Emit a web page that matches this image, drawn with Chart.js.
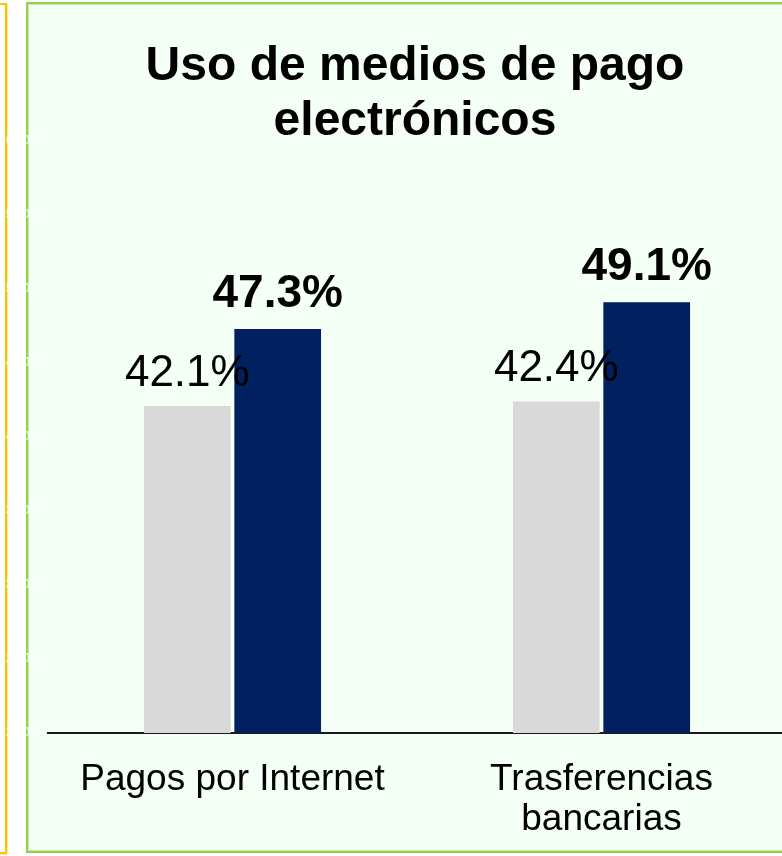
<!DOCTYPE html>
<html>
<head>
<meta charset="utf-8">
<script src="https://cdn.jsdelivr.net/npm/chart.js@4"></script>
<style>
  html, body { margin: 0; padding: 0; overflow: hidden; background: #fff; }
  #wrap { position: relative; width: 782px; height: 856px; overflow: hidden; }
  #yellow { position: absolute; left: -20px; top: 3px; width: 27px; height: 851px; box-sizing: border-box; border: 2px solid #ffc000; box-shadow: 1px 0 0 #ffe699, 0 1px 0 #ffe699; }
  #green { position: absolute; left: 26px; top: 2px; width: 800px; height: 851px; box-sizing: border-box; border: 2px solid #92d050; box-shadow: inset 1px 1px 0 #c9e8a8, inset -1px -1px 0 #c9e8a8; background: #f4fff5; }
  #graphics { position: absolute; left: 0; top: 0; }
</style>
</head>
<body>
<div id="wrap">
  <div id="yellow"></div>
  <div id="green"></div>
  <canvas id="graphics" width="786" height="856"></canvas>
</div>
<script>
const titleLines = ['Uso de medios de pago', 'electrónicos'];
const categories = ['Pagos por Internet', ['Trasferencias', 'bancarias']];
const previousValues = [42.1, 42.4];
const currentValues = [47.3, 49.1];
const yMin = 20;
const yMax = 60;
const yStep = 5;

const FONT = '"Liberation Sans", Arial, sans-serif';

// title centred over the plot area
const titlePlugin = {
    id: 'titlePlugin',
    afterDraw(chart) {
        const c = chart.ctx;
        const area = chart.chartArea;
        const cx = (area.left + 782) / 2;
        c.save();
        c.fillStyle = '#000';
        c.font = 'bold 48px ' + FONT;
        c.textAlign = 'center';
        c.textBaseline = 'alphabetic';
        c.fillText(titleLines[0], cx, 80);
        c.fillText(titleLines[1], cx, 135);
        c.restore();
    }
};

// value labels above bars
const labelPlugin = {
    id: 'labelPlugin',
    afterDatasetsDraw(chart) {
        const c = chart.ctx;
        c.save();
        c.fillStyle = '#000';
        c.textAlign = 'center';
        c.textBaseline = 'alphabetic';
        chart.data.datasets.forEach((ds, i) => {
            const meta = chart.getDatasetMeta(i);
            const bold = i === 1;
            c.font = (bold ? 'bold 46px ' : '44px ') + FONT;
            meta.data.forEach((bar, j) => {
                c.fillText(ds.data[j].toFixed(1) + '%', bar.x, bar.y - (bold ? 22 : 20));
            });
        });
        c.restore();
    }
};

var ctx = document.getElementById('graphics').getContext('2d');
var myChart = new Chart(ctx, {
    type: 'bar',
    data: {
        labels: categories,
        datasets: [{
            label: 'Anterior',
            data: previousValues,
            backgroundColor: '#d9d9d9',
            categoryPercentage: 0.49,
            barPercentage: 0.959
        }, {
            label: 'Actual',
            data: currentValues,
            backgroundColor: '#002060',
            categoryPercentage: 0.49,
            barPercentage: 0.959
        }]
    },
    options: {
        responsive: false,
        animation: false,
        layout: { padding: { top: 141, right: 0, left: 0, bottom: 0 } },
        plugins: {
            legend: { display: false },
            title: { display: false },
            tooltip: { enabled: false }
        },
        scales: {
            x: {
                grid: { display: false, drawTicks: false },
                border: { display: true, color: '#1a1a1a', width: 2 },
                ticks: {
                    color: '#000',
                    padding: 27,
                    maxRotation: 0,
                    font: { family: FONT, size: 37, lineHeight: 1.08 }
                },
                afterFit(scale) { scale.height = 123; }
            },
            y: {
                min: yMin,
                max: yMax,
                grid: { display: false, drawTicks: false },
                border: { display: false },
                ticks: {
                    stepSize: yStep,
                    color: '#ffffff',
                    padding: 8,
                    font: { family: FONT, size: 12 },
                    callback: v => v.toFixed(1) + '%'
                },
                afterFit(scale) { scale.width = 48; }
            }
        }
    },
    plugins: [titlePlugin, labelPlugin]
});
</script>
</body>
</html>
